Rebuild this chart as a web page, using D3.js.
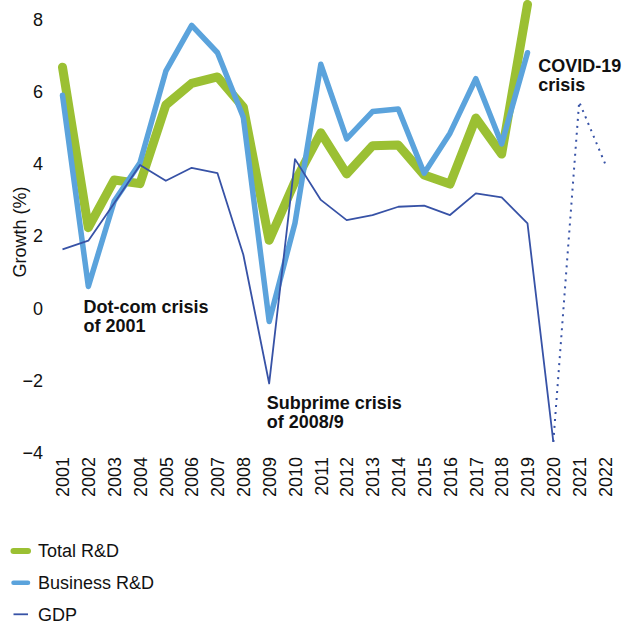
<!DOCTYPE html>
<html>
<head>
<meta charset="utf-8">
<script src="https://cdn.jsdelivr.net/npm/d3@7"></script>
<style>
  html, body { margin: 0; padding: 0; background: #fff; }
  svg { display: block; font-family: "Liberation Sans", Arial, Helvetica, sans-serif; }
</style>
</head>
<body>
<div id="chart"></div>
<script>
// ---- data ----
const years = [2001,2002,2003,2004,2005,2006,2007,2008,2009,2010,2011,2012,2013,2014,2015,2016,2017,2018,2019,2020,2021,2022];
const totalRD = [6.67,2.22,3.54,3.44,5.62,6.22,6.40,5.56,1.87,3.50,4.85,3.71,4.49,4.51,3.68,3.43,5.26,4.26,8.41];
const businessRD = [5.89,0.59,2.95,4.02,6.56,7.83,7.07,5.28,-0.38,2.35,6.75,4.68,5.44,5.51,3.73,4.84,6.35,4.54,7.07];
const gdp = [1.62,1.86,2.90,3.96,3.52,3.88,3.73,1.47,-2.10,4.12,2.99,2.43,2.57,2.80,2.83,2.57,3.17,3.06,2.34,-3.72];
const gdpForecastYears = [2020,2021,2022];
const gdpForecast = [-3.72,5.71,4.00];
const yTicks = [-4,-2,0,2,4,6,8];
const seriesNames = ["Total R&D","Business R&D","GDP"];
const annotations = [
  {lines:["Dot-com crisis","of 2001"]},
  {lines:["Subprime crisis","of 2008/9"]},
  {lines:["COVID-19","crisis"]}
];

// ---- layout ----
const W = 634, H = 624;
const colors = {total:"#9bc033", business:"#5ba3dc", gdp:"#3752a6"};

const svg = d3.select("#chart").append("svg").attr("width", W).attr("height", H);

const x = d3.scaleLinear().domain([2001, 2022]).range([62.5, 605]);
const y = d3.scaleLinear().domain([-4, 8]).range([452, 19.2]);

// y axis
const yAxis = d3.axisLeft(y).tickValues(yTicks).tickSize(0).tickPadding(0)
  .tickFormat(d => d < 0 ? "\u2212" + Math.abs(d) : String(d));
const gy = svg.append("g").attr("transform", "translate(43,0)").call(yAxis);
gy.select(".domain").remove();
gy.selectAll("text").attr("font-size", 18).attr("fill", "#111").attr("dy", "0.35em")
  .attr("font-family", "Liberation Sans, Arial, sans-serif");

// x axis (rotated labels)
const xAxis = d3.axisBottom(x).tickValues(years).tickSize(0).tickPadding(0).tickFormat(d3.format("d"));
const gx = svg.append("g").attr("transform", "translate(0,457)").call(xAxis);
gx.select(".domain").remove();
gx.selectAll("text")
  .attr("font-size", 18).attr("fill", "#111")
  .attr("font-family", "Liberation Sans, Arial, sans-serif")
  .attr("text-anchor", "end")
  .attr("y", 0).attr("x", 0).attr("dy", "0.35em")
  .attr("transform", "rotate(-90)");

// y axis title
svg.append("text")
  .attr("transform", "translate(20,232) rotate(-90)")
  .attr("text-anchor", "middle").attr("dy", "0.35em")
  .attr("font-size", 18).attr("fill", "#111")
  .text("Growth (%)");

// lines
const line = d3.line().x(d => x(d[0])).y(d => y(d[1]));
const zip = (arr, yrs) => arr.map((v, i) => [yrs[i], v]);

svg.append("path").datum(zip(totalRD, years)).attr("d", line)
  .attr("fill", "none").attr("stroke", colors.total).attr("stroke-width", 9)
  .attr("stroke-linecap", "round").attr("stroke-linejoin", "round");
svg.append("path").datum(zip(businessRD, years)).attr("d", line)
  .attr("fill", "none").attr("stroke", colors.business).attr("stroke-width", 5.5)
  .attr("stroke-linecap", "round").attr("stroke-linejoin", "round");
svg.append("path").datum(zip(gdp, years)).attr("d", line)
  .attr("fill", "none").attr("stroke", colors.gdp).attr("stroke-width", 1.8)
  .attr("stroke-linejoin", "round");
svg.append("path").datum(zip(gdpForecast, gdpForecastYears)).attr("d", line)
  .attr("fill", "none").attr("stroke", colors.gdp).attr("stroke-width", 2)
  .attr("stroke-dasharray", "2,5");

// annotations
const annPos = [[83.5, 312.7], [266.7, 409], [538.3, 71.7]];
annotations.forEach((a, i) => {
  const t = svg.append("text").attr("x", annPos[i][0]).attr("y", annPos[i][1])
    .attr("font-size", 18).attr("font-weight", "bold").attr("fill", "#111");
  a.lines.forEach((l, j) => {
    t.append("tspan").attr("x", annPos[i][0]).attr("dy", j === 0 ? 0 : 19).text(l);
  });
});

// legend
const legend = [
  {name: seriesNames[0], color: colors.total, w: 6},
  {name: seriesNames[1], color: colors.business, w: 4.5},
  {name: seriesNames[2], color: colors.gdp, w: 1.8}
];
const legY = [551, 582.7, 614.3];
legend.forEach((l, i) => {
  const g = svg.append("g").attr("transform", `translate(0,${legY[i]})`);
  g.append("line").attr("x1", 13.5).attr("x2", 28).attr("y1", 0).attr("y2", 0)
    .attr("stroke", l.color).attr("stroke-width", l.w)
    .attr("stroke-linecap", i < 2 ? "round" : "butt");
  g.append("text").attr("x", 38).attr("dy", "0.35em").attr("font-size", 18)
    .attr("fill", "#111").text(l.name);
});
</script>
</body>
</html>
